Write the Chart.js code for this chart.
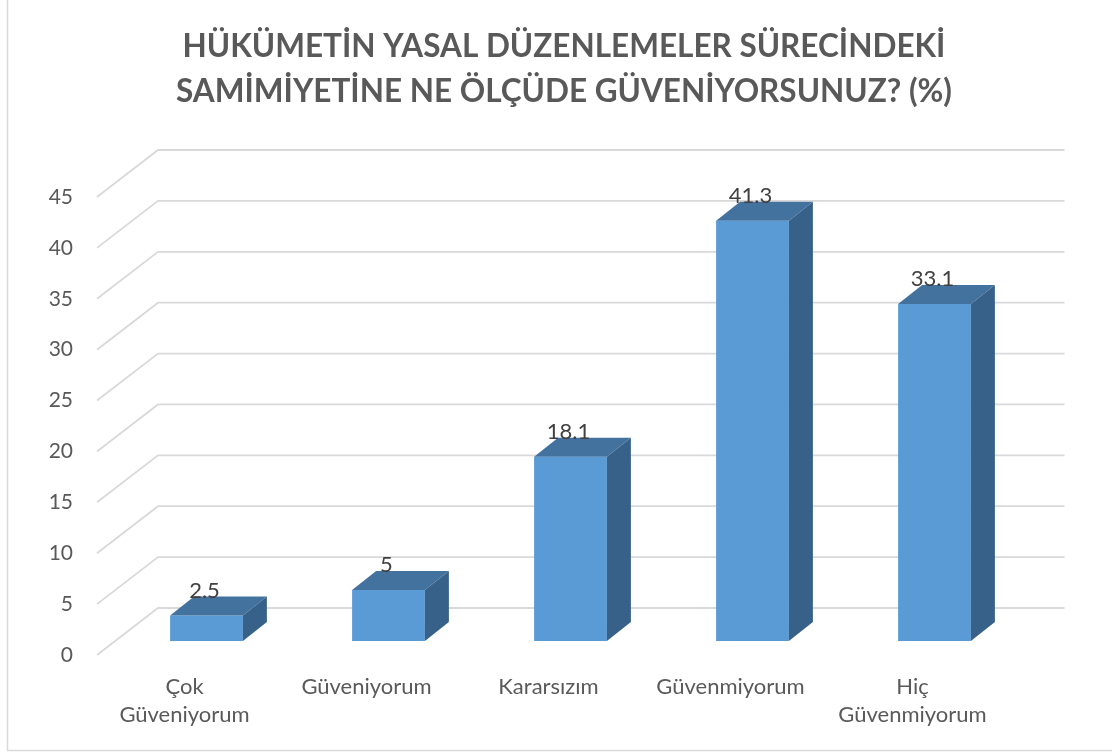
<!DOCTYPE html>
<html>
<head>
<meta charset="utf-8">
<script src="https://cdn.jsdelivr.net/npm/chart.js@4/dist/chart.umd.min.js"></script>
<style>
  html, body { margin: 0; padding: 0; background: #ffffff; }
  canvas { display: block; }
</style>
</head>
<body>
<canvas id="c" width="1112" height="753"></canvas>
<script>
// ---- data ----
const titleLines = ['HÜKÜMETİN YASAL DÜZENLEMELER SÜRECİNDEKİ', 'SAMİMİYETİNE NE ÖLÇÜDE GÜVENİYORSUNUZ? (%)'];
const categories = [['Çok', 'Güveniyorum'], 'Güveniyorum', 'Kararsızım', 'Güvenmiyorum', ['Hiç', 'Güvenmiyorum']];
const values = [2.5, 5, 18.1, 41.3, 33.1];
const yMin = 0;
const yMax = 45;
const yStep = 5;

// ---- styles ----
const FRONT = '#5b9bd5';
const TOP = '#43729f';
const SIDE = '#386189';
const GRID = '#d9d9d9';
const DEPTH_X = 24, DEPTH_Y = -19;               // bar depth
const FLOOR_FRONT_X = -18.5, FLOOR_FRONT_Y = 14; // front edge of floor relative to bar plane
const FLOOR_BACK_X = 42.5, FLOOR_BACK_Y = -33;   // back wall relative to bar plane
const WALL_RIGHT_EXTRA = 39;

const threeD = {
  id: 'threeD',
  beforeDraw(chart) {
    const ctx = chart.ctx;
    ctx.save();
    ctx.strokeStyle = GRID;
    ctx.lineWidth = 1.5;
    ctx.beginPath();
    ctx.moveTo(7.5, 0);
    ctx.lineTo(7.5, 750.5);
    ctx.lineTo(1112, 750.5);
    ctx.stroke();
    ctx.restore();
  },
  beforeDatasetsDraw(chart) {
    const ctx = chart.ctx;
    const ys = chart.scales.y;
    const a = chart.chartArea;
    ctx.save();
    ctx.strokeStyle = GRID;
    ctx.lineWidth = 1.8;
    ys.ticks.forEach(t => {
      const yf = ys.getPixelForValue(t.value);
      ctx.beginPath();
      ctx.moveTo(a.left + FLOOR_FRONT_X, yf + FLOOR_FRONT_Y);
      ctx.lineTo(a.left + FLOOR_BACK_X, yf + FLOOR_BACK_Y);
      ctx.lineTo(a.right + WALL_RIGHT_EXTRA, yf + FLOOR_BACK_Y);
      ctx.stroke();
    });
    ctx.restore();
  },
  afterDatasetsDraw(chart) {
    const ctx = chart.ctx;
    const meta = chart.getDatasetMeta(0);
    ctx.save();
    meta.data.forEach((bar, i) => {
      const p = bar.getProps(['x', 'y', 'base', 'width'], true);
      const l = p.x - p.width / 2, r = p.x + p.width / 2, t = p.y, b = p.base;
      // top face
      ctx.fillStyle = TOP;
      ctx.beginPath();
      ctx.moveTo(l, t);
      ctx.lineTo(l + DEPTH_X, t + DEPTH_Y);
      ctx.lineTo(r + DEPTH_X, t + DEPTH_Y);
      ctx.lineTo(r, t);
      ctx.closePath();
      ctx.fill();
      // side face
      ctx.fillStyle = SIDE;
      ctx.beginPath();
      ctx.moveTo(r, t);
      ctx.lineTo(r + DEPTH_X, t + DEPTH_Y);
      ctx.lineTo(r + DEPTH_X, b + DEPTH_Y);
      ctx.lineTo(r, b);
      ctx.closePath();
      ctx.fill();
      // value label
      ctx.fillStyle = '#404040';
      ctx.font = '22px Lato';
      ctx.textAlign = 'center';
      ctx.textBaseline = 'middle';
      ctx.fillText(String(values[i]), p.x - 2, t - 25);
    });
    ctx.restore();
  }
};

new Chart(document.getElementById('c'), {
  type: 'bar',
  data: {
    labels: categories,
    datasets: [{
      data: values,
      backgroundColor: FRONT,
      borderWidth: 0,
      barPercentage: 0.4,
      categoryPercentage: 1,
      yAxisID: 'y'
    }]
  },
  options: {
    responsive: false,
    devicePixelRatio: 1,
    animation: false,
    layout: { padding: { left: 16, right: 0, top: 0, bottom: 0 } },
    plugins: {
      legend: { display: false },
      tooltip: { enabled: false },
      title: {
        display: true,
        text: titleLines,
        color: '#595959',
        font: { family: 'Lato', weight: 'bold', size: 31.5, lineHeight: '45px' },
        padding: { top: 24, bottom: 69 }
      }
    },
    scales: {
      x: {
        offset: true,
        grid: { display: false, drawTicks: false },
        border: { display: false },
        ticks: {
          color: '#595959',
          font: { family: 'Lato', size: 22, lineHeight: '28px' },
          padding: 32,
          labelOffset: -22,
          maxRotation: 0,
          autoSkip: false
        },
        afterFit(s) { s.height = 112; }
      },
      y: {
        position: 'left',
        min: yMin,
        max: yMax,
        grid: { display: false, drawTicks: false },
        border: { display: false },
        ticks: {
          stepSize: yStep,
          color: '#595959',
          font: { family: 'Lato', size: 21 },
          padding: 42.5,
          labelOffset: 14
        },
        afterFit(s) { s.width = 99.5; }
      },
      yRight: {
        position: 'right',
        min: yMin,
        max: yMax,
        grid: { display: false, drawTicks: false },
        border: { display: false },
        ticks: { display: false },
        afterFit(s) { s.width = 86.5; }
      }
    }
  },
  plugins: [threeD]
});
</script>
</body>
</html>
